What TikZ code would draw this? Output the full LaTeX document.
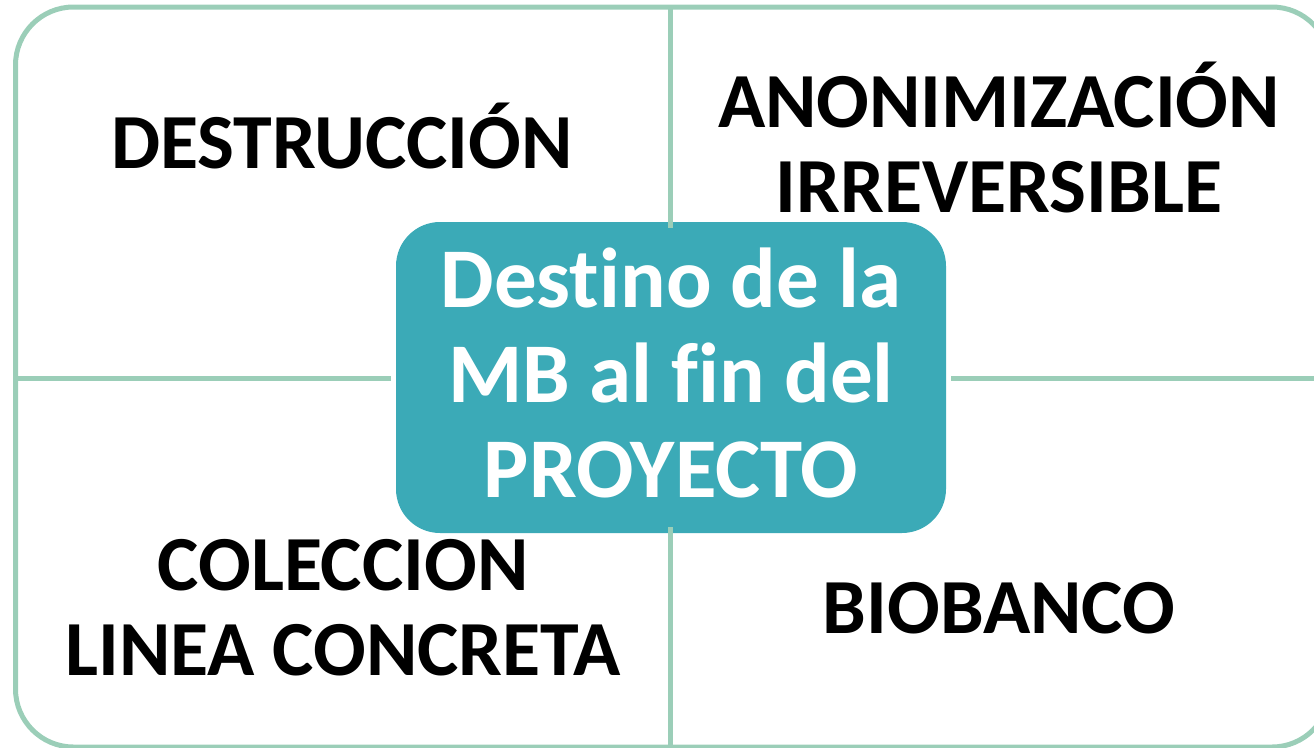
\documentclass[tikz,border=0pt]{standalone}
\usepackage{fontspec}
\setmainfont[Ligatures={NoCommon,NoRequired,NoContextual}]{Carlito}
\definecolor{framegreen}{HTML}{9BCEB8}
\definecolor{boxteal}{HTML}{3BAAB7}
\begin{document}
\begin{tikzpicture}[x=1pt,y=-1pt,
  frame/.style={draw=framegreen,line width=5pt},
  centerbox/.style={fill=boxteal,rounded corners=44pt,minimum width=550pt,minimum height=311pt,inner sep=0pt},
  centertext/.style={text=white,font=\fontsize{85}{95}\selectfont\bfseries,align=center,inner sep=0pt},
  label/.style={font=\fontsize{78}{85}\selectfont\bfseries,align=center,inner sep=0pt,text=black}]
\useasboundingbox (0,0) rectangle (1314,747);
\begin{scope}
\clip (0,0) rectangle (1314,747);
\draw[frame,rounded corners=58pt] (15.5,7) rectangle (1330,747);
\node[centerbox] (c) at (671,377.5) {};
\coordinate (top) at (670.5,7);
\coordinate (bottom) at (670.5,747);
\coordinate (left) at (15.5,378);
\coordinate (right) at (1330,378);
\draw[frame] (top) -- ([yshift=-6pt]c.north -| top);
\draw[frame] ([yshift=6pt]c.south -| bottom) -- (bottom);
\draw[frame] (left) -- ([xshift=-5pt]c.west |- left);
\draw[frame] ([xshift=5pt]c.east |- right) -- (right);
\end{scope}
\node[centertext,anchor=base] (t) at (671,497) {Destino de la\\MB al fin del\\PROYECTO};
\node[label,anchor=base] (d) at (342,168) {DESTRUCCIÓN};
\node[label,anchor=base] (a) at (999,212) {ANONIMIZACIÓN\\IRREVERSIBLE};
\node[label,anchor=base] (co) at (343,675) {COLECCION\\LINEA CONCRETA};
\node[label,anchor=base] (b) at (999,633) {BIOBANCO};
\end{tikzpicture}
\end{document}
